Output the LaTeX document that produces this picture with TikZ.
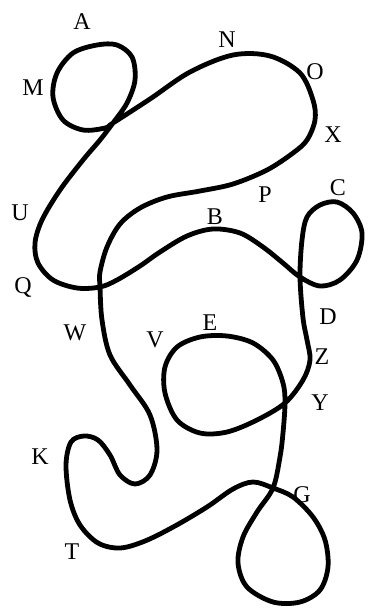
\documentclass[tikz,border=0pt]{standalone}
\usepackage{fontspec}
\setmainfont{Liberation Serif}

\begin{document}
\begin{tikzpicture}[
  x=1pt, y=-1pt,
  curve/.style={line width=4.8pt, line cap=round, line join=round},
  point label/.style={inner sep=0pt, font=\fontsize{24}{24}\selectfont}
]
  \useasboundingbox (0,0) rectangle (372,611);

  % Crossings of the closed curve.
  \coordinate (x1) at (113,123);
  \coordinate (x2) at (100,287);
  \coordinate (x3) at (273,488);
  \coordinate (x4) at (285,403);
  \coordinate (x5) at (300,277);

  % One closed curve: N-O-X-P, down past W and K to T, loop G,
  % loop E, up to loop C, back over B to Q, U and loop A.
  \draw[curve] plot[smooth cycle, tension=0.55] coordinates {
    (x1) (150,99) (190,72) (233,55) (270,56) (300,73) (313,100)
    (315,120) (307,140) (293,153) (267,170) (233,184) (200,191)
    (167,197) (140,208) (120,224) (107,247) (100,272)
    (x2) (102,320) (110,355) (130,385) (150,415) (157,450)
    (150,475) (135,484) (120,475) (110,455) (98,440) (84,436)
    (71,442) (66,465) (70,500) (80,525) (98,543) (120,548)
    (145,541) (175,526) (207,507) (233,489) (253,482) (x3)
    (293,497) (313,517) (325,540) (328,567) (320,590) (300,602)
    (273,602) (247,587) (238,563) (243,537) (257,512) (x3)
    (280,457) (283,433) (x4) (283,383) (273,360) (253,343)
    (227,336) (200,337) (177,347) (165,367) (165,393) (177,420)
    (200,433) (227,432) (257,420) (x4) (303,380) (310,360)
    (307,340) (303,318) (x5) (302,240) (307,217) (320,205)
    (337,202) (353,213) (362,233) (357,260) (340,280) (320,286)
    (x5) (283,263) (263,247) (240,233) (213,229) (187,236)
    (160,252) (140,266) (117,280) (x2) (77,288) (53,280)
    (38,263) (35,243) (42,220) (60,190) (83,160) (100,140)
    (x1) (127,103) (135,80) (132,57) (117,45) (97,45) (73,53)
    (57,73) (53,97) (63,120) (83,130) (105,128)
  };

  % Letters along the curve.
  \node[point label] (A) at (82,22) {A};
  \node[point label] (M) at (33,88) {M};
  \node[point label] (N) at (227,40) {N};
  \node[point label] (O) at (315,72) {O};
  \node[point label] (X) at (333,135) {X};
  \node[point label] (P) at (265,195) {P};
  \node[point label] (C) at (338,188) {C};
  \node[point label] (B) at (215,217) {B};
  \node[point label] (U) at (20,213) {U};
  \node[point label] (Q) at (23,287) {Q};
  \node[point label] (D) at (328,317) {D};
  \node[point label] (W) at (75,333) {W};
  \node[point label] (V) at (155,340) {V};
  \node[point label] (E) at (210,323) {E};
  \node[point label] (Z) at (322,357) {Z};
  \node[point label] (Y) at (320,403) {Y};
  \node[point label] (K) at (40,457) {K};
  \node[point label] (G) at (302,495) {G};
  \node[point label] (T) at (72,552) {T};
\end{tikzpicture}
\end{document}
